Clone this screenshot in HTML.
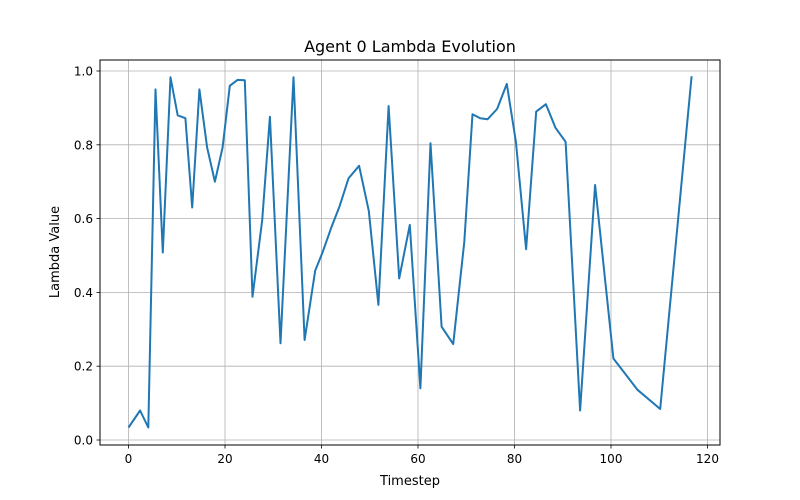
<!DOCTYPE html>
<html><head><meta charset="utf-8"><style>
body{margin:0;background:#fff;}
svg{display:block;font-family:"DejaVu Sans","Liberation Sans",sans-serif;}
</style></head><body>
<svg id="chart" width="800" height="500">
<rect x="0" y="0" width="800" height="500" fill="#fff"/>
<text x="410" y="52" text-anchor="middle" font-size="16">Agent 0 Lambda Evolution</text>
<text x="410" y="485" text-anchor="middle" font-size="13">Timestep</text>
<text x="59" y="252" text-anchor="middle" font-size="13" transform="rotate(-90 59 252)">Lambda Value</text>
<g id="grid"></g><g id="ticks"></g><g id="series"></g>
<rect x="100" y="60" width="620" height="385" fill="none" stroke="#000" stroke-width="1"/>
</svg>
<script>
const timesteps=[0,2.4,4.1,5.6,7.1,8.7,10.2,11.8,13.2,14.7,16.3,17.9,19.5,21.0,22.6,24.1,25.7,27.7,29.3,31.5,34.2,36.5,38.7,40.2,42.1,43.7,45.6,47.8,49.8,51.8,53.9,56.1,58.3,60.5,62.6,64.9,67.3,69.6,71.3,72.9,74.4,76.4,78.4,80.3,82.4,84.5,86.5,88.5,90.6,93.6,96.7,100.5,105.5,110.2,116.7];
const lambdaValues=[0.034,0.08,0.034,0.95,0.508,0.983,0.88,0.872,0.63,0.95,0.793,0.7,0.793,0.96,0.976,0.975,0.388,0.596,0.876,0.262,0.983,0.271,0.459,0.508,0.578,0.632,0.709,0.743,0.621,0.366,0.905,0.438,0.583,0.14,0.804,0.307,0.26,0.537,0.883,0.872,0.869,0.897,0.965,0.808,0.517,0.89,0.91,0.846,0.808,0.08,0.691,0.221,0.136,0.084,0.986];
const xTicks=[0,20,40,60,80,100,120];
const yTicks=[0.0,0.2,0.4,0.6,0.8,1.0];
const NS="http://www.w3.org/2000/svg";
const xs=t=>128.5+t*4.825;
const ys=v=>440-v*369;
const grid=document.getElementById('grid'),ticks=document.getElementById('ticks'),series=document.getElementById('series');
function mk(tag,attrs,parent){const e=document.createElementNS(NS,tag);for(const k in attrs)e.setAttribute(k,attrs[k]);parent.appendChild(e);return e;}
xTicks.forEach(t=>{const x=xs(t);
 const g=mk('line',{x1:x,x2:x,y1:60,y2:445,stroke:'#b0b0b0','stroke-width':0.8},grid);
 
 
 const tk=mk('line',{x1:x,x2:x,y1:445,y2:448.5,stroke:'#000','stroke-width':0.8},ticks);
 
 
 const lb=mk('text',{x:x,y:463,'text-anchor':'middle','font-size':12},ticks);lb.textContent=t;
 
 
});
yTicks.forEach(v=>{const y=ys(v);
 const g=mk('line',{x1:100,x2:720,y1:y,y2:y,stroke:'#b0b0b0','stroke-width':0.8},grid);
 
 
 const tk=mk('line',{x1:96.5,x2:100,y1:y,y2:y,stroke:'#000','stroke-width':0.8},ticks);
 
 
 const lb=mk('text',{x:93,y:y+4.5,'text-anchor':'end','font-size':12},ticks);lb.textContent=v.toFixed(1);
 
 
});
const pts=timesteps.map((t,i)=>xs(t).toFixed(1)+','+ys(lambdaValues[i]).toFixed(1)).join(' ');
const line=mk('polyline',{points:pts,fill:'none',stroke:'#1f77b4','stroke-width':2,'stroke-linejoin':'round'},series);


</script>
</body></html>
